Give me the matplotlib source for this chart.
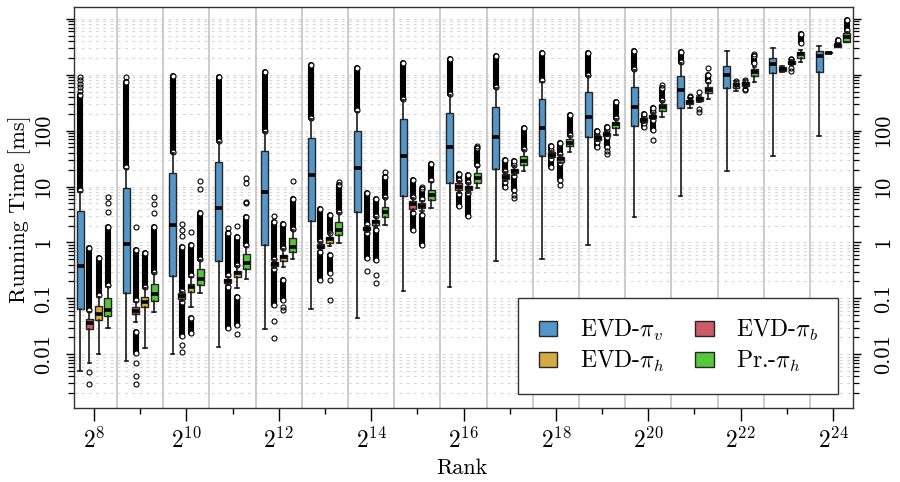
import matplotlib.pyplot as plt
import numpy as np
from matplotlib.patches import Patch
from matplotlib.ticker import FixedLocator, FixedFormatter, NullFormatter, LogLocator

plt.rcParams['font.family'] = 'serif'
plt.rcParams['font.serif'] = ['cmr10']
plt.rcParams['mathtext.fontset'] = 'cm'
plt.rcParams['axes.unicode_minus'] = False
plt.rcParams['axes.formatter.use_mathtext'] = True

# rank = 2^k
exps = list(range(8, 25))

# EVD-pi_v (blue)
pv_lo = [0.0051, 0.0077, 0.010, 0.0137, 0.0284, 0.064, 0.044, 0.136, 0.162, 0.472, 0.513, 0.9, 2.9, 6.8, 19, 35.3, 80]
pv_q1 = [0.064, 0.123, 0.252, 0.467, 0.9, 2.4, 3.5, 6.8, 11.5, 20.4, 35.3, 78, 121, 252, 573, 1091, 1137]
pv_med = [0.385, 0.93, 2.03, 4.2, 7.9, 16.1, 21.5, 35.7, 51.7, 78, 113, 174, 262, 535, 991, 1541, 2170]
pv_q3 = [3.7, 9.3, 17.7, 27.9, 44, 75, 99, 164, 210, 262, 373, 486, 612, 952, 1455, 1972, 2700]
pv_hi = [8.1, 21, 39, 63, 96, 160, 219, 354, 435, 573, 753, 952, 1218, 1606, 2700, 2977, 3275]
pv_band = [[(8.6, 435)], [(22, 750)], [(41, 950)], [(66, 900)], [(100, 1140)], [(168, 1500)],
           [(230, 1340)], [(370, 1650)], [(455, 1890)], [(600, 2170)], [(790, 2425)], [(1000, 2425)],
           [(1280, 2700)], [(1680, 2600)], [], [], []]
pv_out = [[520, 600, 690, 800, 900], [900], [], [], [], [], [], [], [], [], [], [], [], [], [], [], []]

# EVD-pi_b (red)
pb_lo = [0.0071, 0.038, 0.09, 0.17, 0.35, 0.72, 1.55, 3.6, 7.8, 12.5, 32, 65, 138, 250, 520, 1120, 2420]
pb_q1 = [0.028, 0.052, 0.099, 0.186, 0.38, 0.79, 1.67, 4.0, 8.5, 13.5, 34, 68, 145, 300, 588, 1183, 2440]
pb_med = [0.0358, 0.0595, 0.112, 0.205, 0.407, 0.84, 1.77, 4.8, 10, 15, 37, 73, 155, 330, 657, 1285, 2480]
pb_q3 = [0.042, 0.069, 0.123, 0.222, 0.443, 0.93, 1.87, 5.6, 11.5, 17, 41, 79, 165, 354, 722, 1396, 2520]
pb_hi = [0.058, 0.087, 0.13, 0.24, 0.48, 1.0, 2.0, 6.3, 12.5, 18.5, 44, 84, 172, 380, 760, 1450, 2550]
pb_band = [[(0.062, 0.79)], [(0.092, 0.73), (0.0105, 0.025)], [(0.135, 0.84), (0.021, 0.085)],
           [(0.26, 1.46), (0.029, 0.16)], [(0.5, 2.36), (0.076, 0.33)], [(1.05, 3.9), (0.21, 0.68)],
           [(2.1, 7.8), (0.52, 1.45)], [(6.6, 13), (1.67, 3.4)], [(13, 16.8), (4.4, 7.5)],
           [(19, 30), (10, 12)], [(45, 53), (22.7, 31)], [(85, 98), (51.6, 63)],
           [(176, 199), (118, 136)], [], [], [], []]
pb_out = [[0.0049, 0.0029], [1.92, 0.0071, 0.0040, 0.0029], [1.3, 1.7, 2.14, 0.0147, 0.011], [1.84],
          [2.98, 0.04, 0.0198], [], [0.313], [], [], [], [], [], [], [395, 410], [782], [], []]

# EVD-pi_h (orange)
ph_lo = [0.010, 0.0128, 0.071, 0.151, 0.36, 0.85, 1.85, 3.7, 7.8, 16, 26.5, 79, 160, 330, 590, 1480, 3100]
ph_q1 = [0.041, 0.069, 0.128, 0.244, 0.467, 0.996, 2.06, 4.1, 8.5, 17.7, 27.9, 81, 167, 342, 630, 1541, 3180]
ph_med = [0.0526, 0.085, 0.158, 0.281, 0.543, 1.14, 2.3, 4.55, 9.3, 19.2, 30.8, 87, 178, 369, 684, 1650, 3370]
ph_q3 = [0.073, 0.107, 0.181, 0.313, 0.605, 1.24, 2.53, 5.0, 10.3, 21, 33.4, 92, 191, 395, 753, 1766, 3510]
ph_hi = [0.107, 0.151, 0.244, 0.38, 0.75, 1.45, 2.8, 5.6, 11.5, 23, 36, 98, 205, 420, 790, 1850, 3600]
ph_band = [[(0.113, 0.52)], [(0.16, 0.64)], [(0.26, 0.9), (0.0238, 0.044)], [(0.40, 1.27), (0.0334, 0.107)],
           [(0.8, 2.14), (0.094, 0.213)], [(1.5, 3.1), (0.28, 0.6)], [(2.95, 6.0), (0.49, 1.7)],
           [(5.9, 8.95), (0.9, 3.1)], [(12, 16.1), (3.0, 7.6)], [(24, 29), (8.7, 15.5)],
           [(38, 60), (13, 26)], [(104, 118), (51.6, 76)], [(215, 250), (103, 155)], [], [], [],
           [(3660, 4200)]]
ph_out = [[], [], [1.56], [1.97, 0.0228], [0.071, 0.062], [0.21, 0.094], [0.262, 0.186], [10], [],
          [7.2, 6.3], [10.7], [44, 38], [68], [499, 241, 213], [820, 560, 530], [1900, 1950, 1300, 1180], []]

# Pr.-pi_h (green)
pr_lo = [0.029, 0.056, 0.126, 0.225, 0.5, 0.97, 2.06, 4.1, 9.3, 19, 41.6, 84, 174, 364, 753, 1700, 3800]
pr_q1 = [0.048, 0.091, 0.174, 0.332, 0.668, 1.36, 2.82, 5.75, 11.7, 24.3, 53, 110, 225, 467, 952, 1972, 3910]
pr_med = [0.062, 0.118, 0.22, 0.425, 0.82, 1.67, 3.47, 7.1, 14.1, 29, 61, 130, 269, 535, 1137, 2355, 4810]
pr_q3 = [0.103, 0.181, 0.332, 0.623, 1.19, 2.36, 4.37, 8.7, 17.3, 35.7, 70, 145, 300, 597, 1254, 2590, 5520]
pr_hi = [0.162, 0.28, 0.486, 0.84, 1.67, 3.3, 6.2, 12.3, 22.7, 45, 80, 160, 340, 700, 1400, 2750, 5900]
pr_band = [[(0.17, 1.9)], [(0.3, 1.9)], [(0.5, 3.3)], [(0.9, 2.9)], [(1.75, 5.9)], [(3.5, 10.7)],
           [(6.5, 15)], [(13, 25.4)], [(24, 48)], [(47, 110)], [(85, 191)], [(170, 330)],
           [(360, 573)], [(760, 991)], [(1600, 2190)], [(3660, 5300)], [(6320, 9550)]]
pr_out = [[3.56, 5.0, 6.6], [3.3, 4.9, 6.6], [8.95, 12.6], [5.0, 5.3, 11.7, 14.4], [12.6], [12.3],
          [18.5], [], [53], [], [], [], [657], [1306], [2350], [], []]

labels = ["EVD-$\\pi_v$", "EVD-$\\pi_b$", "EVD-$\\pi_h$", "Pr.-$\\pi_h$"]
colors = ["#5596c8", "#cb5b67", "#d5aa43", "#55c53c"]
series = [
    (pv_lo, pv_q1, pv_med, pv_q3, pv_hi, pv_out, pv_band),
    (pb_lo, pb_q1, pb_med, pb_q3, pb_hi, pb_out, pb_band),
    (ph_lo, ph_q1, ph_med, ph_q3, ph_hi, ph_out, ph_band),
    (pr_lo, pr_q1, pr_med, pr_q3, pr_hi, pr_out, pr_band),
]
offsets = [-0.30, -0.10, 0.10, 0.30]

fig = plt.figure(figsize=(9, 4.82), dpi=100)
ax = fig.add_axes([74 / 900, 74 / 482, 779 / 900, 401 / 482])

grp = np.arange(len(exps))
for (lo, q1, med, q3, hi, out, band), off, col in zip(series, offsets, colors):
    pos = grp + off
    st = [dict(whislo=a, q1=b, med=c, q3=d, whishi=e, fliers=f)
          for a, b, c, d, e, f in zip(lo, q1, med, q3, hi, out)]
    # dense runs of outliers
    for x, bl in zip(pos, band):
        for b0, b1 in bl:
            ax.plot([x, x], [b0, b1], color='black', lw=4.4, solid_capstyle='round', zorder=2.5)
            ax.plot([x, x], [b0, b1], 'o', mfc='white', mec='black', ms=3.6, mew=0.8, zorder=2.6)
    ax.bxp(st, positions=pos, widths=0.15, patch_artist=True, manage_ticks=False,
           boxprops=dict(facecolor=col, edgecolor='#262626', lw=1.0),
           medianprops=dict(color='black', lw=2.6, solid_capstyle='butt'),
           whiskerprops=dict(color='#1a1a1a', lw=1.2),
           capprops=dict(color='#1a1a1a', lw=1.2),
           flierprops=dict(marker='o', mfc='none', mec='black', ms=3.6, mew=0.8),
           zorder=3)

ax.set_yscale('log')
ax.set_ylim(0.00109, 16300)
ax.set_xlim(-0.433, len(exps) - 1 + 0.433)

# group separators
for i in range(len(exps) - 1):
    ax.axvline(i + 0.5, color='#c4c4c4', lw=1.2, zorder=1)

ax.yaxis.set_major_locator(FixedLocator([1e-2, 1e-1, 1, 10, 100, 1e3, 1e4]))
ax.yaxis.set_major_formatter(FixedFormatter(['0.01', '0.1', '1', '10', '100', '', '']))
ax.yaxis.set_minor_locator(LogLocator(base=10, subs=range(2, 10), numticks=20))
ax.yaxis.set_minor_formatter(NullFormatter())
ax.grid(True, which='both', axis='y', ls=(0, (2.5, 4)), color='#d6d6d6', lw=0.8, zorder=0)
ax.set_axisbelow(True)

ax.tick_params(axis='y', which='both', left=True, right=True, labelleft=True, labelright=True,
               direction='out', labelrotation=90, labelsize=16)
ax.tick_params(axis='y', which='major', length=6, width=1.0, pad=9)
ax.tick_params(axis='y', which='minor', length=4, width=0.9)

ax.xaxis.set_major_locator(FixedLocator(grp[::2]))
ax.xaxis.set_major_formatter(FixedFormatter(["$2^{%d}$" % e for e in exps[::2]]))
ax.xaxis.set_minor_locator(FixedLocator(grp[1::2]))
ax.tick_params(axis='x', which='major', length=9, width=1.0, labelsize=17, pad=5)
ax.tick_params(axis='x', which='minor', length=4, width=1.0)

for lbl in ax.get_yticklabels():
    lbl.set_va('center')

for sp in ax.spines.values():
    sp.set_linewidth(1.0)
    sp.set_color('#333333')

ax.set_xlabel('Rank', fontsize=16)
ax.xaxis.set_label_coords(0.498, -0.125)
ax.set_ylabel('Running Time [ms]', fontsize=16)
ax.yaxis.set_label_coords(-0.055, 0.496)

handles = [Patch(facecolor=c, edgecolor='#262626', lw=1.0) for c in colors]
order = [0, 2, 1, 3]
leg = ax.legend([handles[i] for i in order], [labels[i] for i in order], ncol=2,
                loc='lower right', bbox_to_anchor=(0.981, 0.035), fontsize=17,
                frameon=True, fancybox=False, edgecolor='#333333', framealpha=1,
                handlelength=0.8, handleheight=0.64, handletextpad=0.95, columnspacing=1.3,
                borderpad=0.85, labelspacing=0.25, borderaxespad=0)
leg.get_frame().set_linewidth(1.0)
leg.set_zorder(10)

fig.savefig('out.png', dpi=100)
